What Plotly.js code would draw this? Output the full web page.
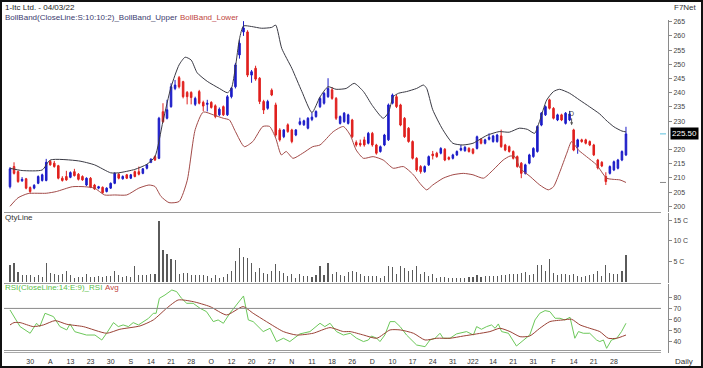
<!DOCTYPE html>
<html>
<head>
<meta charset="utf-8">
<script src="https://cdn.plot.ly/plotly-3.0.1.min.js"></script>
<style>html,body{margin:0;padding:0;background:#fff;}#chart{width:703px;height:368px;}</style>
</head>
<body>
<div id="chart"></div>
<script>
// ---------- DATA ----------
const openP = [206.9,214.0,212.2,209.0,209.7,206.6,206.4,208.1,209.1,209.1,215.8,215.2,214.3,209.9,210.5,210.2,212.2,211.3,210.5,207.5,
209.9,207.5,206.4,206.7,205.2,206.4,208.1,211.3,209.7,211.1,209.9,212.2,212.2,211.6,213.4,215.5,217.5,216.9,233.3,231.0,
235.1,241.5,245.3,243.9,240.1,240.1,235.9,240.4,236.6,235.9,236.6,235.4,232.2,235.1,232.2,238.6,242.1,253.3,261.4,261.4,
246.2,248.6,245.1,236.9,234.5,240.9,235.7,226.9,224.5,228.7,226.9,225.1,228.9,228.7,227.5,230.6,231.6,235.1,236.3,238.6,
241.0,238.0,229.2,229.8,229.2,230.4,222.5,222.2,223.4,222.2,225.7,221.6,219.3,221.6,223.4,236.3,238.6,235.7,231.0,227.5,
222.8,216.9,214.0,212.2,214.6,218.4,218.7,218.7,220.1,217.2,216.9,218.1,219.8,219.6,220.4,220.1,220.4,223.6,222.2,223.6,
222.8,222.8,224.8,221.6,221.0,219.3,217.5,215.2,211.6,215.2,217.5,219.3,228.6,232.2,237.5,234.5,230.4,232.2,229.2,230.4,
226.9,221.0,223.4,223.4,222.8,221.6,216.3,215.5,210.5,211.6,212.8,213.4,216.3,218.1];
const highP = [213.8,215.5,212.6,210.3,210.0,207.0,207.8,210.9,211.5,216.7,216.3,216.0,214.6,210.6,212.5,212.3,213.2,211.7,210.9,210.2,
210.3,207.9,207.2,207.0,206.7,208.4,212.0,211.7,210.9,211.4,211.4,212.6,214.0,213.5,214.9,216.9,217.9,231.5,236.3,237.5,
243.3,244.5,245.9,244.2,240.6,240.5,238.6,241.0,237.2,237.5,237.0,235.9,234.8,235.5,239.2,242.0,250.5,258.5,265.2,262.0,
248.0,249.5,245.5,237.5,237.5,241.5,236.5,227.5,227.2,229.2,227.3,227.2,231.2,230.5,231.4,233.0,233.8,238.5,240.3,245.1,
242.0,238.5,232.0,233.2,232.6,230.8,223.2,223.5,224.5,226.2,226.2,222.0,221.4,225.5,236.2,239.7,239.2,236.1,231.4,227.9,
223.2,217.3,214.5,214.4,217.9,219.5,219.2,220.8,220.5,217.6,218.5,219.7,221.6,221.2,220.8,220.5,224.9,224.0,223.8,225.7,
225.2,225.5,227.0,222.0,221.4,219.7,217.9,215.6,215.0,218.5,220.8,228.5,233.2,235.5,237.9,234.9,232.6,232.6,233.2,233.6,
227.3,223.8,223.8,223.8,223.2,222.0,216.7,215.9,212.0,214.4,216.1,216.7,219.7,228.0];
const lowP = [206.3,211.2,208.3,208.6,206.0,204.7,206.0,207.8,208.7,208.8,214.3,213.6,209.5,208.7,209.0,209.9,210.5,209.1,209.0,207.1,
206.4,205.8,206.0,204.4,204.9,206.1,207.8,209.5,209.4,209.6,209.6,210.2,210.9,211.3,213.0,215.2,216.0,216.6,229.4,230.6,
234.7,240.9,241.5,238.0,235.9,235.9,235.3,235.9,233.5,233.4,234.4,231.0,231.8,231.8,231.8,238.0,241.5,252.0,260.0,245.5,
243.5,244.2,236.0,232.5,234.0,238.8,224.5,222.8,224.0,225.9,222.2,224.7,228.5,228.3,227.1,230.0,231.2,234.6,235.8,238.2,
237.5,230.4,228.8,229.4,228.8,224.0,221.0,221.0,221.0,221.8,221.0,218.2,218.9,221.2,223.0,235.9,234.6,228.2,224.1,222.4,
216.5,212.2,211.5,211.8,214.2,216.5,217.1,218.3,215.9,216.2,216.5,217.7,219.4,219.2,218.9,218.3,220.0,221.8,221.8,223.2,
222.4,222.4,220.6,219.4,218.9,216.5,213.6,209.9,211.2,214.8,217.1,218.9,228.2,231.8,234.1,230.6,230.0,230.0,228.8,230.0,
219.4,218.5,222.4,221.8,221.2,217.7,213.0,213.8,207.5,211.2,212.4,213.0,215.9,217.7];
const closeP = [213.2,211.6,208.7,209.5,206.4,205.2,207.4,210.5,211.1,215.5,214.6,214.0,209.9,209.1,209.3,211.9,210.8,209.5,209.3,209.9,
206.7,206.1,206.9,204.8,206.4,208.1,211.6,209.9,210.5,209.9,211.1,210.5,211.3,213.2,214.6,216.6,216.3,231.0,229.8,234.0,
242.1,242.7,242.1,238.6,238.6,238.3,238.0,236.3,235.3,236.3,234.8,231.6,234.2,232.2,238.6,241.6,249.8,257.4,262.8,246.2,
247.4,244.8,236.9,233.9,236.9,239.2,225.1,223.4,226.9,226.3,222.8,226.9,229.8,230.1,231.0,231.4,233.4,238.0,239.8,241.5,
238.0,231.0,231.6,232.8,232.2,224.5,221.6,221.6,221.6,225.7,221.6,218.7,221.0,225.1,235.7,239.2,235.1,228.6,224.5,222.8,
216.9,212.8,212.2,214.0,217.5,217.8,217.5,220.4,216.3,216.6,218.1,219.3,220.4,220.8,219.3,218.7,224.5,222.2,223.4,224.3,
224.8,225.1,221.0,219.8,219.3,216.9,214.0,211.6,214.6,218.1,220.4,228.1,232.8,235.1,234.5,231.0,232.2,230.4,232.8,232.5,
219.8,223.4,222.8,222.2,221.6,218.1,213.5,214.2,208.7,214.0,215.7,216.3,219.3,225.5];

// volume in crores (C)
const volume = [4.2,4.7,2.4,1.6,1.6,1.6,1.2,1.8,1.2,4.7,2.3,2.0,1.8,2.0,2.8,1.8,1.0,1.2,1.3,1.9,
1.2,1.3,1.4,1.2,1.5,1.4,2.6,1.6,1.3,1.4,1.2,3.8,1.8,1.8,1.8,2.0,2.0,14.8,7.9,6.9,
5.5,5.3,2.0,2.3,2.2,1.6,1.6,1.6,1.6,1.4,1.1,1.6,1.0,1.2,2.0,2.8,5.0,8.4,6.1,5.9,
4.7,2.4,3.5,2.2,1.9,2.6,4.5,2.6,2.2,1.5,1.9,1.1,2.0,1.5,1.4,1.2,1.6,3.8,1.6,4.7,
2.0,2.4,1.6,1.4,2.4,2.6,2.4,2.0,1.5,1.5,1.5,1.4,1.0,1.4,3.8,3.6,2.0,3.8,3.5,2.7,
3.0,3.8,2.0,2.4,1.5,2.0,1.0,1.2,1.2,1.1,1.0,1.0,1.1,1.0,1.2,1.2,1.8,1.2,1.5,1.5,
1.5,1.4,1.6,1.8,2.0,2.0,2.0,2.2,2.4,1.8,2.0,4.2,4.1,2.8,5.7,2.2,1.6,2.0,2.0,1.6,
2.0,1.4,1.2,1.4,1.6,2.0,2.6,1.4,4.1,2.2,2.0,2.0,2.8,6.6];

// Bollinger band points: [bar index, value]
const upperX = [0,3,8,10,17,21,25,27,31,34,36,38,40,42,43.5,45,46.5,49,52,54,55,56,57,58,60,62.5,65,66,67.5,70,72.5,75,77,79,81,83.5,85.5,87.8,90,92.7,94,95.2,96.5,98.5,101,102.7,103.5,105,107.5,110,112.5,115,116.5,118.5,121.5,124,126.5,128.5,130.3,131.5,133.3,135,136.5,139,141.5,144,146.5,148,150,152,153];
const upperY = [213.4,212.6,212.8,216.3,216.0,214.6,211.8,211.8,213.0,214.8,217.5,230.0,242.0,249.8,252.5,251.5,247.0,244.0,241.5,240.0,241.5,249.0,259.0,263.5,263.3,262.7,263.0,263.8,255.6,248.6,240.4,233.0,238.5,242.1,241.2,241.5,243.3,240.4,235.5,231.0,233.0,238.6,239.8,240.4,241.5,242.7,241.5,234.0,227.0,222.2,221.6,222.2,223.4,225.0,226.3,226.1,227.5,227.1,225.7,229.8,237.4,240.4,241.2,239.8,237.4,235.0,232.5,230.4,228.0,226.5,226.2];
const lowerX = [0,2,4.5,9,11.5,15.5,18.5,21,23.5,26,29,32,34.5,36,37.5,39.5,42,44,46,48,50.5,53,54.5,56,58.2,60.3,62.8,64.5,66,67.4,68.6,70.3,72.7,75.2,77,80.3,82.8,84.5,86,87.8,90.2,92.7,95.2,97.7,100.2,101.8,103.5,105,107.6,110,112.6,115,117.6,120,122.5,124.2,125.4,126.7,129.2,131.6,133.7,135,136.6,138.3,139.5,141.2,143.2,145.7,148.2,149.8,151.5,153];
const lowerY = [200.0,203.0,204.5,204.6,205.2,206.9,206.9,206.4,204.0,204.0,204.0,206.4,207.5,207.0,203.5,201.3,201.7,209.0,227.0,233.2,232.2,231.0,230.4,226.3,221.0,222.8,228.1,228.1,224.0,218.1,219.3,216.9,218.7,221.0,221.6,226.3,228.1,225.1,219.8,216.9,217.5,216.3,213.4,214.0,211.1,208.1,205.8,207.5,209.9,211.1,211.6,211.1,209.9,212.8,216.3,217.7,217.5,213.4,210.5,207.5,205.8,206.9,212.2,218.7,222.8,219.8,217.5,214.6,209.9,209.5,209.3,208.4];

// RSI points: [bar index, value]
const rsiX = [0,1,2.5,5,6.6,7.4,8.7,10.8,12.4,14.1,14.9,16.1,19,21.1,22.8,24,25.7,26.9,28.1,29.4,30.6,31.9,33.1,34.4,35.6,36.3,37.1,38.5,40.2,41.4,42.6,43.9,45.5,47.2,48.8,50.5,51.7,53,54.6,56.3,58,59.2,60.4,62.9,64.6,66.2,67.9,69.5,72,74.5,77,78.2,79.5,81.1,82.8,84.5,86.1,87.8,89,89.8,91.1,91.9,93.1,94.4,95.6,96.9,98.5,101,103.1,104.3,105.6,106.8,107.6,109.3,110.9,113.4,115.1,115.9,117.1,118.4,119.6,120.5,121.3,122.1,123.8,125.8,127.5,129.1,130.4,131.6,132.9,134.1,135.4,136.6,137.8,139.1,140.3,141.2,142.4,144,145.7,146.5,147.4,148.2,149.4,150.7,151.9,153];
const rsiY = [68.6,62.6,53.6,47.6,56.6,53.6,65.6,62.6,53.6,50.6,56.0,49.0,46.0,46.0,41.5,47.6,57.2,53.6,55.1,53.6,57.2,55.1,58.1,61.0,65.6,65.6,79.1,82.1,86.6,85.1,79.1,74.6,74.6,70.1,67.1,58.1,59.6,56.6,65.6,73.1,81.2,59.6,58.1,49.1,52.1,40.1,43.1,40.1,47.0,49.1,56.6,53.6,56.6,49.1,46.0,47.6,43.1,40.1,41.5,45.1,43.1,40.1,46.0,58.1,58.1,53.6,46.0,37.0,35.5,41.5,43.1,47.6,43.1,43.1,47.0,49.1,46.0,53.6,51.2,53.6,55.1,52.1,56.0,49.1,47.6,36.1,41.5,46.0,59.6,65.6,68.0,67.1,61.1,61.1,59.6,62.0,43.1,49.1,47.6,47.6,41.5,40.1,41.5,34.0,41.5,43.1,49.1,56.6];
const avgX = [0,1,2.5,5.8,8.3,11.2,14.1,18.2,24,27.3,32.3,35.6,38.9,41.8,45.5,49.7,53.8,57.9,60.4,63.7,67.9,71.2,75.3,79.5,82.8,84.5,87.8,91.1,94.4,96.9,100.2,103.1,106,109.3,112.6,115.9,119.2,121.7,124.2,126.7,129.1,131.6,134.1,137.4,139.5,141.6,144,146.5,148.6,150.7,153];
const avgY = [55.1,57.2,57.2,53.6,55.1,59.0,55.7,53.6,47.6,51.2,54.2,59.6,70.1,77.6,76.1,71.6,64.1,71.6,65.6,58.1,49.1,46.0,47.6,52.7,49.1,49.1,46.0,43.1,50.6,50.6,47.6,41.5,43.1,43.1,45.1,47.0,49.1,52.1,49.1,44.5,45.1,52.1,58.1,59.6,60.2,55.1,52.1,49.1,43.1,43.1,46.0];

// axis labels (225 is hidden behind the last-price box in the reference)
const dateLabels = ['30','A','13','23','30','S','14','21','28','O','12','20','27','N','11','18','26','D','10','17','24','31','J22','14','21','31','F','14','21','28'];
const priceTicks = [200,205,210,215,220,230,235,240,245,250,255,260,265];
const volTicks = [5,10,15];
const volTickText = ['5 C','10 C','15 C'];
const rsiTicks = [40,50,60,70,80];
const rsiLevels = [70,30];

// ---------- LAYOUT HELPERS ----------
const WIDTH = 703, HEIGHT = 368, ML = 4, MR = 35;
const PW = WIDTH - ML - MR;
const px2x = p => (p - ML) / PW;
const py2y = p => 1 - p / HEIGHT;
const idx = closeP.map((_, i) => i);
const lastI = closeP.length - 1;

const FONT = 'Liberation Sans, Arial, sans-serif';

const traces = [
  { type: 'candlestick', x: idx, open: openP, high: highP, low: lowP, close: closeP,
    xaxis: 'x', yaxis: 'y', whiskerwidth: 0, hoverinfo: 'skip',
    increasing: { line: { color: '#1c1cc8', width: 1 }, fillcolor: '#1c1cc8' },
    decreasing: { line: { color: '#e0201e', width: 1 }, fillcolor: '#e0201e' } },
  { type: 'scatter', mode: 'lines', x: upperX, y: upperY, xaxis: 'x', yaxis: 'y',
    line: { color: '#3a3a44', width: 1, shape: 'spline', smoothing: 0.6 }, hoverinfo: 'skip' },
  { type: 'scatter', mode: 'lines', x: lowerX, y: lowerY, xaxis: 'x', yaxis: 'y',
    line: { color: '#a24a48', width: 1, shape: 'spline', smoothing: 0.6 }, hoverinfo: 'skip' },
  { type: 'bar', x: idx, y: volume, xaxis: 'x', yaxis: 'y2', width: 0.28,
    marker: { color: '#5a5a5a', line: { width: 0 } }, hoverinfo: 'skip' },
  { type: 'scatter', mode: 'lines', x: rsiX, y: rsiY, xaxis: 'x', yaxis: 'y3',
    line: { color: '#6cc85a', width: 1 }, hoverinfo: 'skip' },
  { type: 'scatter', mode: 'lines', x: avgX, y: avgY, xaxis: 'x', yaxis: 'y3',
    line: { color: '#9a4236', width: 1, shape: 'spline', smoothing: 0.6 }, hoverinfo: 'skip' }
];

const axisCommon = {
  side: 'right', showgrid: false, zeroline: false, showline: true, linecolor: '#8a8a8a', linewidth: 1,
  ticks: 'outside', ticklen: 3, tickcolor: '#8a8a8a', tickfont: { family: FONT, size: 7, color: '#444' },
  fixedrange: true
};

const shapes = [];
// panel separators
[212.5, 283.5].forEach(p => shapes.push({ type: 'line', xref: 'paper', yref: 'paper',
  x0: 0, x1: px2x(661), y0: py2y(p), y1: py2y(p), line: { color: '#9a9a9a', width: 1 } }));
// RSI levels
rsiLevels.forEach(v => shapes.push({ type: 'line', xref: 'paper', yref: 'y3',
  x0: 0, x1: px2x(661), y0: v, y1: v, line: { color: '#8a8a8a', width: 1 } }));
// bottom line of RSI panel
shapes.push({ type: 'line', xref: 'paper', yref: 'paper', x0: 0, x1: px2x(661),
  y0: py2y(350.5), y1: py2y(350.5), line: { color: '#9a9a9a', width: 1 } });
// last-value markers at the axis
shapes.push({ type: 'line', xref: 'paper', yref: 'y', x0: px2x(660), x1: px2x(666),
  y0: closeP[lastI], y1: closeP[lastI], line: { color: '#5bc0de', width: 1 } });
shapes.push({ type: 'line', xref: 'paper', yref: 'y', x0: px2x(660), x1: px2x(666),
  y0: lowerY[lowerY.length - 1], y1: lowerY[lowerY.length - 1], line: { color: '#888', width: 1 } });
// outer frame
shapes.push({ type: 'rect', xref: 'paper', yref: 'paper', x0: px2x(1), x1: px2x(702), y0: py2y(367), y1: py2y(1),
  line: { color: '#111', width: 2 }, fillcolor: 'rgba(0,0,0,0)' });

const ann = (px, py, text, color, anchor, size) => ({
  xref: 'paper', yref: 'paper', x: px2x(px), y: py2y(py), xanchor: anchor || 'left', yanchor: 'middle',
  text: text, showarrow: false, font: { family: FONT, size: size || 8, color: color || '#222' }, borderpad: 0
});

const annotations = [
  ann(4, 7, '1-Itc Ltd. - 04/03/22', '#222'),
  ann(698, 7, 'F7Net', '#333', 'right'),
  ann(4, 17, 'BollBand(CloseLine:S:10:10:2)_BollBand_Upper', '#3b3b6e'),
  ann(179, 17, 'BollBand_Lower', '#c0463e'),
  ann(4, 217, 'QtyLine', '#333'),
  ann(4, 287, 'RSI(CloseLine:14:E:9)_RSI', '#5cbf4a'),
  ann(104, 287, 'Avg', '#c0463e'),
  ann(694, 361, 'Daily', '#333', 'right'),
  { xref: 'paper', yref: 'y', x: 1, y: closeP[lastI], xanchor: 'left', yanchor: 'middle', xshift: 2,
    text: closeP[lastI].toFixed(2), showarrow: false, bgcolor: '#000', borderpad: 1,
    font: { family: FONT, size: 8, color: '#fff' } },
  { xref: 'x', yref: 'y', x: 139.5, y: 228.5, text: 'D', showarrow: true, arrowhead: 2, arrowsize: 0.6,
    arrowwidth: 1, arrowcolor: '#555', ax: 0, ay: -12, font: { family: FONT, size: 7, color: '#444' } }
];

const layout = {
  width: WIDTH, height: HEIGHT, margin: { l: ML, r: MR, t: 0, b: 0 },
  paper_bgcolor: '#fff', plot_bgcolor: '#fff', showlegend: false, boxgap: 0.45, bargap: 0,
  xaxis: { domain: [0, 1], range: [-1.49, 163.44], anchor: 'y3', showgrid: false, zeroline: false,
    showline: false, ticks: '', ticklabelstandoff: 3, tickvals: dateLabels.map((_, k) => 5 + 5 * k), ticktext: dateLabels,
    tickfont: { family: FONT, size: 7, color: '#333' }, rangeslider: { visible: false }, fixedrange: true },
  yaxis: Object.assign({}, axisCommon, { domain: [py2y(212), py2y(20)], range: [198.0, 265.6],
    tickvals: priceTicks, anchor: 'x' }),
  yaxis2: Object.assign({}, axisCommon, { domain: [py2y(283), py2y(213)], range: [-0.24, 16.8],
    tickvals: volTicks, ticktext: volTickText, anchor: 'x' }),
  yaxis3: Object.assign({}, axisCommon, { domain: [py2y(353), py2y(284)], range: [29.8, 92.0],
    tickvals: rsiTicks, anchor: 'x' }),
  shapes: shapes, annotations: annotations
};

Plotly.newPlot('chart', traces, layout, { staticPlot: true, displayModeBar: false });
</script>
</body>
</html>
